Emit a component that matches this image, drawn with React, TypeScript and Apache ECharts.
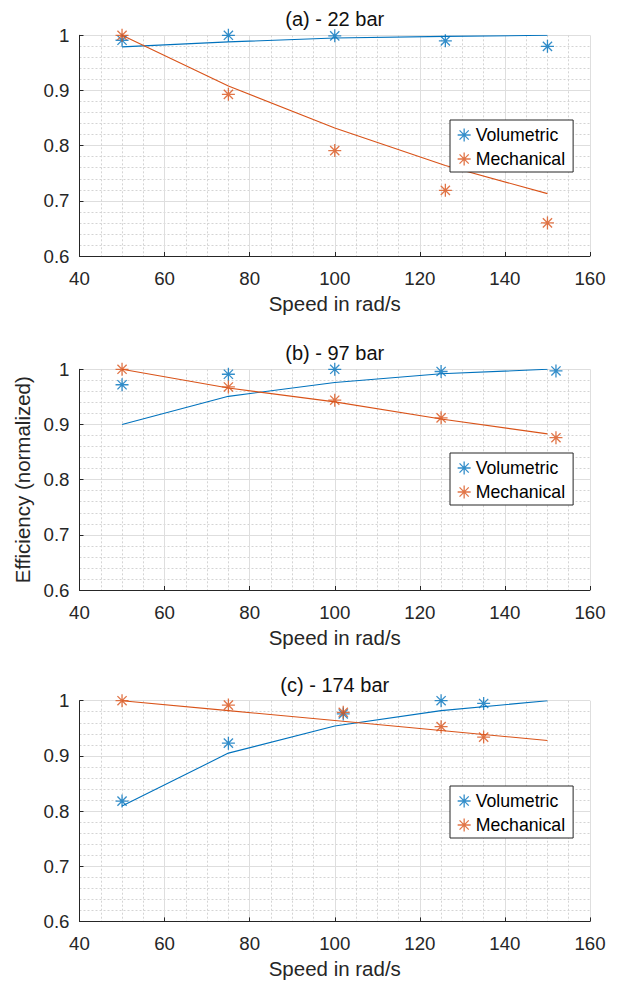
import React, { useEffect, useRef } from "react";
import * as echarts from "echarts";

// ---------- data ----------
const PANEL_TITLES = ["(a) - 22 bar", "(b) - 97 bar", "(c) - 174 bar"];
const SERIES_NAMES = ["Volumetric", "Mechanical"];
const X_TICKS = [40, 60, 80, 100, 120, 140, 160];
const Y_TICKS = [0.6, 0.7, 0.8, 0.9, 1];

// panel (a) 22 bar
const X_A = [50, 75, 100, 126, 150];
const VOL_A = [0.991, 1.0, 0.999, 0.99, 0.98];
const MECH_A = [1.0, 0.893, 0.791, 0.719, 0.66];
const FIT_X_A = [50, 75, 100, 126, 150];
const VOL_FIT_A = [0.979, 0.988, 0.995, 0.998, 1.0];
const MECH_FIT_A = [1.0, 0.908, 0.832, 0.764, 0.713];

// panel (b) 97 bar
const X_B = [50, 75, 100, 125, 152];
const VOL_B = [0.972, 0.991, 1.0, 0.996, 0.997];
const MECH_B = [1.0, 0.968, 0.944, 0.912, 0.876];
const FIT_X_B = [50, 75, 100, 125, 150];
const VOL_FIT_B = [0.9, 0.951, 0.976, 0.992, 1.0];
const MECH_FIT_B = [1.0, 0.966, 0.941, 0.91, 0.883];

// panel (c) 174 bar
const X_C = [50, 75, 102, 125, 135];
const VOL_C = [0.818, 0.923, 0.976, 1.0, 0.995];
const MECH_C = [1.0, 0.992, 0.979, 0.953, 0.934];
const FIT_X_C = [50, 75, 100, 125, 150];
const VOL_FIT_C = [0.809, 0.905, 0.954, 0.982, 1.0];
const MECH_FIT_C = [1.0, 0.982, 0.964, 0.946, 0.928];

// ---------- style ----------
const BLUE = "#0072BD";
const ORANGE = "#D95319";
const AXIS = "#262626";
const FONT = "'Liberation Sans', Arial, Helvetica, sans-serif";
const ASTER =
  "path://M0,5L10,5M5,0L5,10M1.46,1.46L8.54,8.54M1.46,8.54L8.54,1.46";

const GRID_LEFT = 79.5;
const GRID_WIDTH = 510.5;
const GRID_HEIGHT = 220.7;
const GRID_TOPS = [35.3, 369.3, 700.7];
const LEGEND_TOPS = [120, 453, 786];

const zip = (xs: number[], ys: number[]) => xs.map((x, i) => [x, ys[i]]);

const PANELS = [
  { x: X_A, vol: VOL_A, mech: MECH_A, fx: FIT_X_A, vf: VOL_FIT_A, mf: MECH_FIT_A },
  { x: X_B, vol: VOL_B, mech: MECH_B, fx: FIT_X_B, vf: VOL_FIT_B, mf: MECH_FIT_B },
  { x: X_C, vol: VOL_C, mech: MECH_C, fx: FIT_X_C, vf: VOL_FIT_C, mf: MECH_FIT_C },
];

function buildOption() {
  const grid: any[] = [];
  const xAxis: any[] = [];
  const yAxis: any[] = [];
  const series: any[] = [];
  const legend: any[] = [];
  const graphic: any[] = [];

  PANELS.forEach((p, i) => {
    grid.push({
      left: GRID_LEFT,
      top: GRID_TOPS[i],
      width: GRID_WIDTH,
      height: GRID_HEIGHT,
      containLabel: false,
      outerBoundsMode: "none",
    });
    xAxis.push({
      gridIndex: i,
      type: "value",
      min: X_TICKS[0],
      max: X_TICKS[X_TICKS.length - 1],
      interval: X_TICKS[1] - X_TICKS[0],
      axisLine: { show: true, onZero: false, lineStyle: { color: AXIS, width: 1 } },
      axisTick: { show: true, inside: true, length: 4, lineStyle: { color: AXIS } },
      axisLabel: { color: AXIS, fontSize: 18.7, margin: 13, fontFamily: FONT },
      splitLine: { show: true, lineStyle: { color: "#dedede", width: 1 } },
      minorTick: { show: false, splitNumber: 4 },
      minorSplitLine: { show: true, lineStyle: { color: "#d4d4d4", width: 1, type: [2, 2] } },
      name: "Speed in rad/s",
      nameLocation: "middle",
      nameGap: 37,
      nameTextStyle: { color: AXIS, fontSize: 20.5, fontFamily: FONT },
    });
    yAxis.push({
      gridIndex: i,
      type: "value",
      min: Y_TICKS[0],
      max: Y_TICKS[Y_TICKS.length - 1],
      interval: 0.1,
      axisLine: { show: true, onZero: false, lineStyle: { color: AXIS, width: 1 } },
      axisTick: { show: true, inside: true, length: 4, lineStyle: { color: AXIS } },
      axisLabel: {
        color: AXIS,
        fontSize: 18.7,
        margin: 10,
        fontFamily: FONT,
        formatter: (v: number) => String(Math.round(v * 10) / 10),
      },
      splitLine: { show: true, lineStyle: { color: "#dedede", width: 1 } },
      minorTick: { show: false, splitNumber: 5 },
      minorSplitLine: { show: true, lineStyle: { color: "#d4d4d4", width: 1, type: [2, 2] } },
      name: i === 1 ? "Efficiency (normalized)" : "",
      nameLocation: "middle",
      nameRotate: 90,
      nameGap: 38,
      nameTextStyle: { color: AXIS, fontSize: 20.5, fontFamily: FONT },
    });

    series.push(
      {
        name: "Volumetric fit",
        type: "line",
        xAxisIndex: i,
        yAxisIndex: i,
        data: zip(p.fx, p.vf),
        showSymbol: false,
        symbol: "none",
        lineStyle: { color: BLUE, width: 1.1 },
        silent: true,
        z: 2,
      },
      {
        name: "Mechanical fit",
        type: "line",
        xAxisIndex: i,
        yAxisIndex: i,
        data: zip(p.fx, p.mf),
        showSymbol: false,
        symbol: "none",
        lineStyle: { color: ORANGE, width: 1.1 },
        silent: true,
        z: 2,
      },
      {
        name: SERIES_NAMES[0],
        type: "scatter",
        xAxisIndex: i,
        yAxisIndex: i,
        data: zip(p.x, p.vol),
        symbol: ASTER,
        symbolSize: 13,
        itemStyle: { color: "rgba(0,0,0,0)", borderColor: BLUE, borderWidth: 1.3 },
        silent: true,
        z: 3,
      },
      {
        name: SERIES_NAMES[1],
        type: "scatter",
        xAxisIndex: i,
        yAxisIndex: i,
        data: zip(p.x, p.mech),
        symbol: ASTER,
        symbolSize: 13,
        itemStyle: { color: "rgba(0,0,0,0)", borderColor: ORANGE, borderWidth: 1.3 },
        silent: true,
        z: 3,
      }
    );

    legend.push({
      orient: "vertical",
      left: 450,
      top: LEGEND_TOPS[i],
      backgroundColor: "#ffffff",
      borderColor: AXIS,
      borderWidth: 1,
      borderRadius: 0,
      padding: [5, 8, 3, 7],
      itemGap: 4,
      itemWidth: 13,
      itemHeight: 13,
      selectedMode: false,
      textStyle: { color: "#000", fontSize: 17.7, lineHeight: 20, fontFamily: FONT },
      data: [
        {
          name: SERIES_NAMES[0],
          icon: ASTER,
          itemStyle: { color: "rgba(0,0,0,0)", borderColor: BLUE, borderWidth: 1.3 },
        },
        {
          name: SERIES_NAMES[1],
          icon: ASTER,
          itemStyle: { color: "rgba(0,0,0,0)", borderColor: ORANGE, borderWidth: 1.3 },
        },
      ],
      z: 10,
    });

    graphic.push({
      type: "text",
      x: GRID_LEFT + GRID_WIDTH / 2,
      y: GRID_TOPS[i] - 16,
      style: {
        text: PANEL_TITLES[i],
        fill: "#111",
        fontSize: 20,
        fontFamily: FONT,
        textAlign: "center",
        textVerticalAlign: "middle",
      },
      silent: true,
    });
  });

  return {
    animation: false,
    backgroundColor: "#ffffff",
    grid,
    xAxis,
    yAxis,
    series,
    legend,
    graphic,
  };
}

export default function App() {
  const ref = useRef<HTMLDivElement>(null);
  useEffect(() => {
    document.body.style.margin = "0";
    if (!ref.current) return;
    const chart = echarts.init(ref.current, undefined, { renderer: "svg" });
    chart.setOption(buildOption() as any);
    return () => chart.dispose();
  }, []);
  return <div ref={ref} style={{ width: 619, height: 982 }} />;
}
